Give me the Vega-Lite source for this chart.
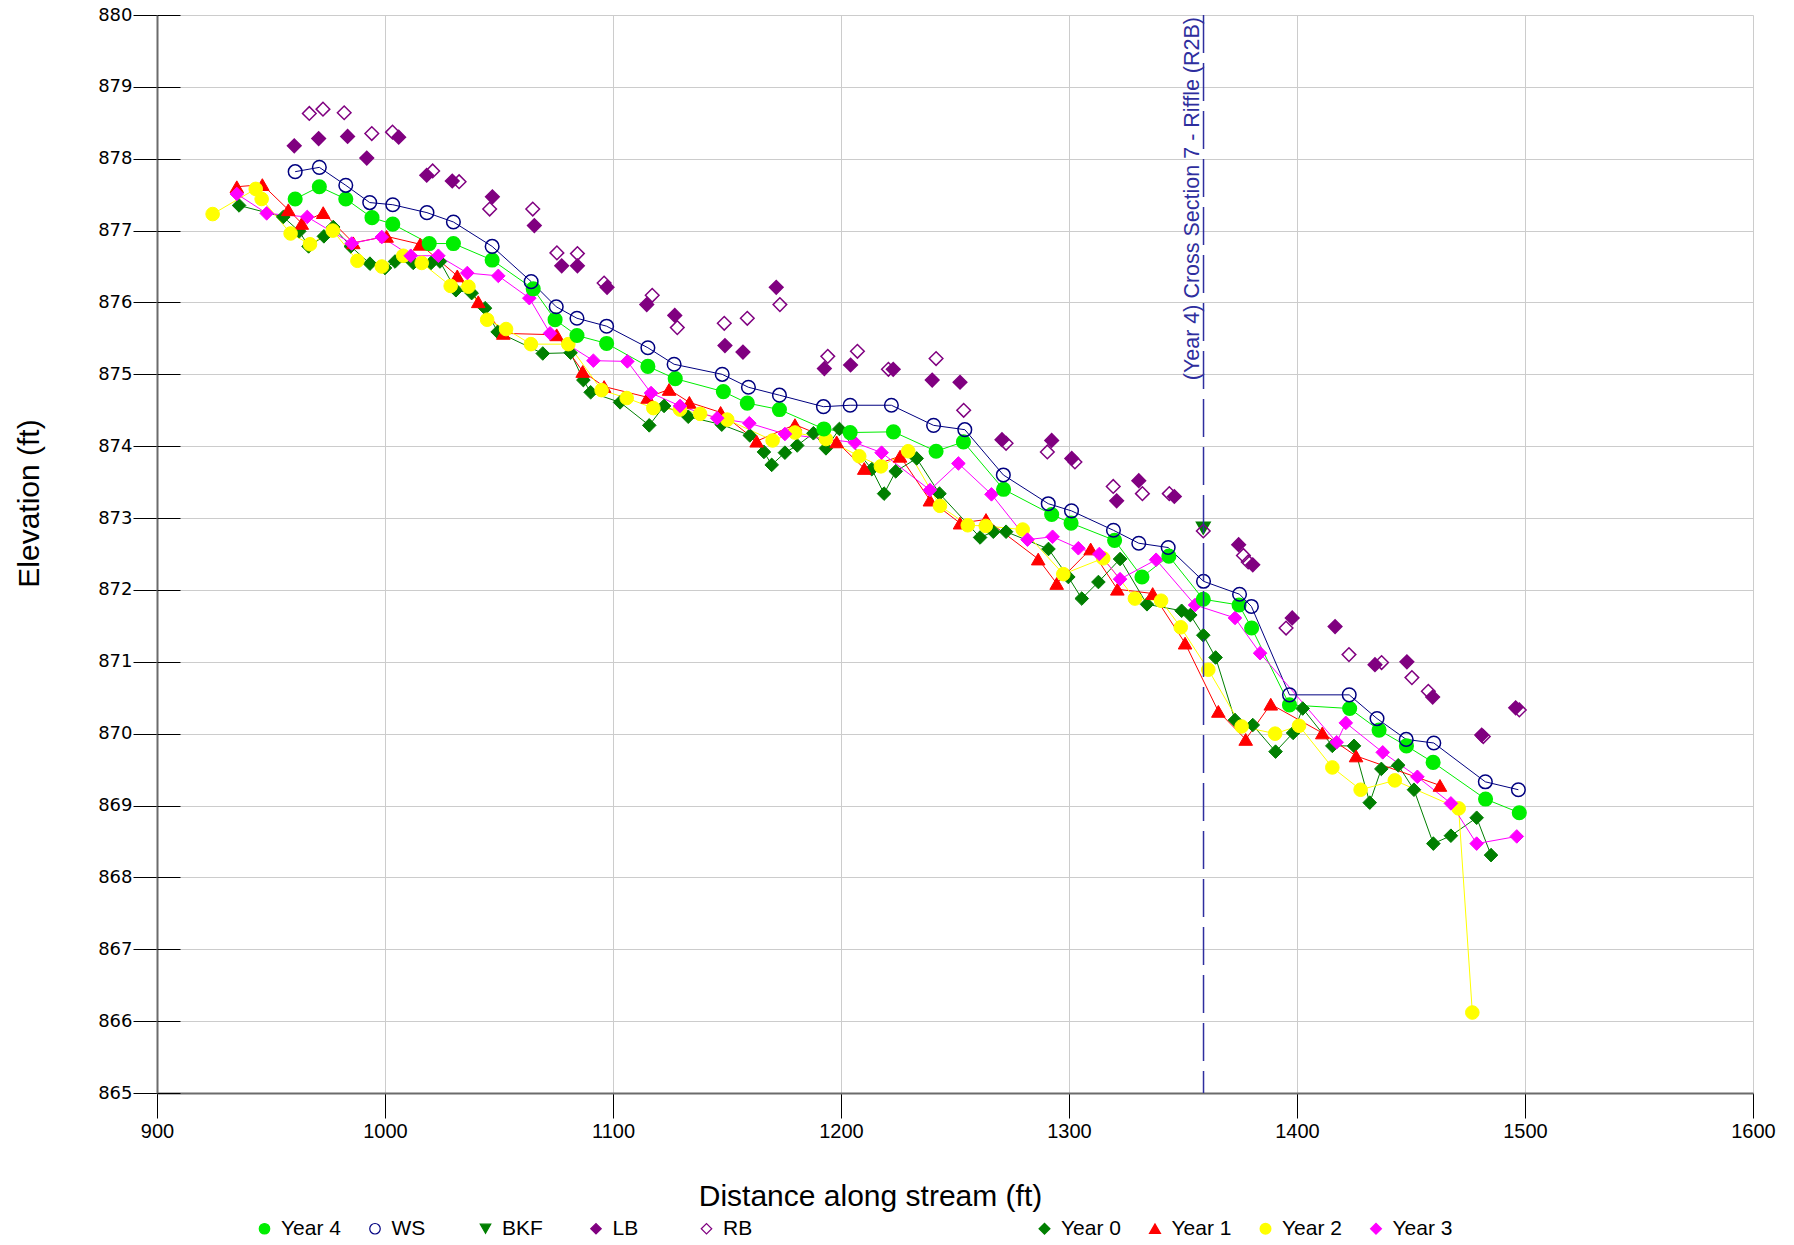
{
  "$schema": "https://vega.github.io/schema/vega-lite/v6.json",
  "width": 1596,
  "height": 1078,
  "autosize": {"type": "none"},
  "padding": {"left": 157, "top": 15, "right": 41, "bottom": 152},
  "background": "white",
  "config": {
    "view": {"stroke": null},
    "axis": {"gridColor": "#cccccc", "gridWidth": 1, "domainColor": "#6b6b6b", "domainWidth": 2, "tickColor": "#000000", "tickWidth": 1, "labelColor": "#000000", "titleColor": "#000000", "titleFontWeight": "normal", "labelFlush": false}
  },
  "datasets": {
    "profile": [
      {"s":"Year 4","d":960.6,"e":877.44},{"s":"Year 4","d":971.2,"e":877.61},{"s":"Year 4","d":982.8,"e":877.44},{"s":"Year 4","d":994.3,"e":877.18},{"s":"Year 4","d":1003.4,"e":877.09},{"s":"Year 4","d":1019.4,"e":876.82},{"s":"Year 4","d":1030,"e":876.82},{"s":"Year 4","d":1047,"e":876.59},{"s":"Year 4","d":1065,"e":876.19},{"s":"Year 4","d":1074.6,"e":875.76},{"s":"Year 4","d":1084.2,"e":875.54},{"s":"Year 4","d":1097.2,"e":875.43},{"s":"Year 4","d":1115.3,"e":875.11},{"s":"Year 4","d":1127.3,"e":874.94},{"s":"Year 4","d":1148.4,"e":874.76},{"s":"Year 4","d":1158.9,"e":874.6},{"s":"Year 4","d":1173,"e":874.51},{"s":"Year 4","d":1192.5,"e":874.24},{"s":"Year 4","d":1204,"e":874.19},{"s":"Year 4","d":1223,"e":874.2},{"s":"Year 4","d":1241.7,"e":873.93},{"s":"Year 4","d":1253.7,"e":874.06},{"s":"Year 4","d":1271.3,"e":873.4},{"s":"Year 4","d":1292.4,"e":873.05},{"s":"Year 4","d":1300.9,"e":872.93},{"s":"Year 4","d":1320,"e":872.69},{"s":"Year 4","d":1332,"e":872.18},{"s":"Year 4","d":1343.8,"e":872.47},{"s":"Year 4","d":1358.9,"e":871.87},{"s":"Year 4","d":1374.6,"e":871.79},{"s":"Year 4","d":1380.1,"e":871.47},{"s":"Year 4","d":1396.7,"e":870.4},{"s":"Year 4","d":1423.1,"e":870.35},{"s":"Year 4","d":1436,"e":870.05},{"s":"Year 4","d":1448,"e":869.83},{"s":"Year 4","d":1459.7,"e":869.6},{"s":"Year 4","d":1482.7,"e":869.09},{"s":"Year 4","d":1497.5,"e":868.9},
      {"s":"WS","d":960.6,"e":877.82},{"s":"WS","d":971.2,"e":877.88},{"s":"WS","d":982.8,"e":877.63},{"s":"WS","d":993.3,"e":877.39},{"s":"WS","d":1003.4,"e":877.36},{"s":"WS","d":1018.4,"e":877.25},{"s":"WS","d":1030,"e":877.12},{"s":"WS","d":1047,"e":876.78},{"s":"WS","d":1064.1,"e":876.29},{"s":"WS","d":1075.1,"e":875.94},{"s":"WS","d":1084.2,"e":875.78},{"s":"WS","d":1097.2,"e":875.67},{"s":"WS","d":1115.3,"e":875.37},{"s":"WS","d":1126.8,"e":875.14},{"s":"WS","d":1147.9,"e":875.0},{"s":"WS","d":1159.4,"e":874.82},{"s":"WS","d":1173,"e":874.71},{"s":"WS","d":1192.3,"e":874.55},{"s":"WS","d":1204,"e":874.57},{"s":"WS","d":1222.1,"e":874.57},{"s":"WS","d":1240.6,"e":874.29},{"s":"WS","d":1254.3,"e":874.23},{"s":"WS","d":1271.2,"e":873.6},{"s":"WS","d":1290.9,"e":873.2},{"s":"WS","d":1301.1,"e":873.1},{"s":"WS","d":1319.5,"e":872.83},{"s":"WS","d":1330.6,"e":872.65},{"s":"WS","d":1343.5,"e":872.59},{"s":"WS","d":1359,"e":872.12},{"s":"WS","d":1374.8,"e":871.94},{"s":"WS","d":1380,"e":871.77},{"s":"WS","d":1396.7,"e":870.54},{"s":"WS","d":1422.9,"e":870.54},{"s":"WS","d":1435.1,"e":870.21},{"s":"WS","d":1447.9,"e":869.92},{"s":"WS","d":1460,"e":869.87},{"s":"WS","d":1482.6,"e":869.33},{"s":"WS","d":1497.1,"e":869.22},
      {"s":"BKF","d":1358.9,"e":872.86},
      {"s":"LB","d":960.2,"e":878.18},{"s":"LB","d":970.9,"e":878.28},{"s":"LB","d":983.6,"e":878.31},{"s":"LB","d":992,"e":878.01},{"s":"LB","d":1006,"e":878.3},{"s":"LB","d":1018.3,"e":877.77},{"s":"LB","d":1029.5,"e":877.69},{"s":"LB","d":1047.1,"e":877.47},{"s":"LB","d":1065.5,"e":877.07},{"s":"LB","d":1077.5,"e":876.51},{"s":"LB","d":1084.4,"e":876.51},{"s":"LB","d":1097.4,"e":876.21},{"s":"LB","d":1114.8,"e":875.97},{"s":"LB","d":1127.1,"e":875.82},{"s":"LB","d":1149.1,"e":875.4},{"s":"LB","d":1157,"e":875.31},{"s":"LB","d":1171.6,"e":876.21},{"s":"LB","d":1192.7,"e":875.08},{"s":"LB","d":1204.2,"e":875.13},{"s":"LB","d":1222.9,"e":875.07},{"s":"LB","d":1240,"e":874.92},{"s":"LB","d":1252.2,"e":874.89},{"s":"LB","d":1270.6,"e":874.09},{"s":"LB","d":1292.4,"e":874.08},{"s":"LB","d":1301.2,"e":873.83},{"s":"LB","d":1320.9,"e":873.24},{"s":"LB","d":1330.6,"e":873.52},{"s":"LB","d":1346.2,"e":873.3},{"s":"LB","d":1374.4,"e":872.63},{"s":"LB","d":1380.6,"e":872.35},{"s":"LB","d":1397.9,"e":871.61},{"s":"LB","d":1416.7,"e":871.49},{"s":"LB","d":1434.2,"e":870.96},{"s":"LB","d":1448.2,"e":871.0},{"s":"LB","d":1459.5,"e":870.51},{"s":"LB","d":1481,"e":869.98},{"s":"LB","d":1495.9,"e":870.36},
      {"s":"RB","d":966.8,"e":878.63},{"s":"RB","d":972.8,"e":878.69},{"s":"RB","d":982.1,"e":878.64},{"s":"RB","d":994.2,"e":878.35},{"s":"RB","d":1003.3,"e":878.37},{"s":"RB","d":1020.9,"e":877.83},{"s":"RB","d":1032.5,"e":877.68},{"s":"RB","d":1045.9,"e":877.3},{"s":"RB","d":1064.8,"e":877.3},{"s":"RB","d":1075.4,"e":876.69},{"s":"RB","d":1084.4,"e":876.68},{"s":"RB","d":1096.1,"e":876.27},{"s":"RB","d":1117.2,"e":876.1},{"s":"RB","d":1128.2,"e":875.65},{"s":"RB","d":1148.8,"e":875.71},{"s":"RB","d":1158.9,"e":875.78},{"s":"RB","d":1173.2,"e":875.97},{"s":"RB","d":1194.2,"e":875.25},{"s":"RB","d":1207.2,"e":875.32},{"s":"RB","d":1220.8,"e":875.07},{"s":"RB","d":1241.7,"e":875.22},{"s":"RB","d":1253.8,"e":874.5},{"s":"RB","d":1272.4,"e":874.04},{"s":"RB","d":1290.5,"e":873.92},{"s":"RB","d":1302.6,"e":873.78},{"s":"RB","d":1319.4,"e":873.44},{"s":"RB","d":1332.2,"e":873.34},{"s":"RB","d":1344,"e":873.34},{"s":"RB","d":1358.9,"e":872.82},{"s":"RB","d":1376.5,"e":872.48},{"s":"RB","d":1378.6,"e":872.39},{"s":"RB","d":1395.2,"e":871.47},{"s":"RB","d":1422.8,"e":871.1},{"s":"RB","d":1437.1,"e":870.99},{"s":"RB","d":1450.4,"e":870.78},{"s":"RB","d":1457.6,"e":870.59},{"s":"RB","d":1481.7,"e":869.96},{"s":"RB","d":1497.5,"e":870.33},
      {"s":"Year 0","d":936,"e":877.35},{"s":"Year 0","d":955.4,"e":877.19},{"s":"Year 0","d":962.4,"e":876.99},{"s":"Year 0","d":966.5,"e":876.78},{"s":"Year 0","d":973.2,"e":876.92},{"s":"Year 0","d":977.3,"e":877.05},{"s":"Year 0","d":985,"e":876.78},{"s":"Year 0","d":993.4,"e":876.54},{"s":"Year 0","d":1000,"e":876.48},{"s":"Year 0","d":1004.4,"e":876.57},{"s":"Year 0","d":1012.4,"e":876.55},{"s":"Year 0","d":1020.2,"e":876.55},{"s":"Year 0","d":1024.1,"e":876.57},{"s":"Year 0","d":1031.1,"e":876.17},{"s":"Year 0","d":1038,"e":876.13},{"s":"Year 0","d":1043.9,"e":875.92},{"s":"Year 0","d":1049.4,"e":875.59},{"s":"Year 0","d":1069.2,"e":875.29},{"s":"Year 0","d":1081.4,"e":875.3},{"s":"Year 0","d":1087,"e":874.92},{"s":"Year 0","d":1090.2,"e":874.75},{"s":"Year 0","d":1103.1,"e":874.61},{"s":"Year 0","d":1115.9,"e":874.29},{"s":"Year 0","d":1122.4,"e":874.56},{"s":"Year 0","d":1133,"e":874.41},{"s":"Year 0","d":1147.7,"e":874.3},{"s":"Year 0","d":1160,"e":874.15},{"s":"Year 0","d":1166.2,"e":873.92},{"s":"Year 0","d":1169.6,"e":873.74},{"s":"Year 0","d":1175.4,"e":873.91},{"s":"Year 0","d":1180.8,"e":874.01},{"s":"Year 0","d":1187.9,"e":874.18},{"s":"Year 0","d":1193.4,"e":873.97},{"s":"Year 0","d":1199.3,"e":874.24},{"s":"Year 0","d":1213.5,"e":873.68},{"s":"Year 0","d":1218.9,"e":873.34},{"s":"Year 0","d":1224,"e":873.65},{"s":"Year 0","d":1233.2,"e":873.83},{"s":"Year 0","d":1243.2,"e":873.34},{"s":"Year 0","d":1261,"e":872.73},{"s":"Year 0","d":1266.8,"e":872.81},{"s":"Year 0","d":1272.4,"e":872.81},{"s":"Year 0","d":1291,"e":872.57},{"s":"Year 0","d":1299.7,"e":872.18},{"s":"Year 0","d":1305.6,"e":871.88},{"s":"Year 0","d":1312.9,"e":872.11},{"s":"Year 0","d":1322.4,"e":872.43},{"s":"Year 0","d":1334.2,"e":871.8},{"s":"Year 0","d":1349.4,"e":871.71},{"s":"Year 0","d":1353.2,"e":871.65},{"s":"Year 0","d":1358.9,"e":871.37},{"s":"Year 0","d":1364.3,"e":871.06},{"s":"Year 0","d":1372.8,"e":870.19},{"s":"Year 0","d":1380.6,"e":870.12},{"s":"Year 0","d":1390.6,"e":869.75},{"s":"Year 0","d":1398.3,"e":870.01},{"s":"Year 0","d":1402.5,"e":870.35},{"s":"Year 0","d":1415.5,"e":869.83},{"s":"Year 0","d":1425,"e":869.83},{"s":"Year 0","d":1431.9,"e":869.04},{"s":"Year 0","d":1437,"e":869.51},{"s":"Year 0","d":1444.4,"e":869.56},{"s":"Year 0","d":1451.3,"e":869.22},{"s":"Year 0","d":1459.8,"e":868.47},{"s":"Year 0","d":1467.5,"e":868.58},{"s":"Year 0","d":1478.8,"e":868.83},{"s":"Year 0","d":1485.1,"e":868.31},
      {"s":"Year 1","d":935,"e":877.61},{"s":"Year 1","d":946.2,"e":877.64},{"s":"Year 1","d":957.6,"e":877.29},{"s":"Year 1","d":963.5,"e":877.1},{"s":"Year 1","d":972.9,"e":877.25},{"s":"Year 1","d":986.1,"e":876.83},{"s":"Year 1","d":1000.7,"e":876.92},{"s":"Year 1","d":1015.4,"e":876.81},{"s":"Year 1","d":1031.7,"e":876.37},{"s":"Year 1","d":1040.9,"e":876.01},{"s":"Year 1","d":1051.9,"e":875.57},{"s":"Year 1","d":1075.3,"e":875.55},{"s":"Year 1","d":1086.7,"e":875.04},{"s":"Year 1","d":1096.1,"e":874.83},{"s":"Year 1","d":1115.2,"e":874.68},{"s":"Year 1","d":1124.6,"e":874.79},{"s":"Year 1","d":1133.5,"e":874.61},{"s":"Year 1","d":1147.2,"e":874.47},{"s":"Year 1","d":1163,"e":874.07},{"s":"Year 1","d":1179.8,"e":874.3},{"s":"Year 1","d":1198.1,"e":874.06},{"s":"Year 1","d":1210.2,"e":873.69},{"s":"Year 1","d":1225.9,"e":873.86},{"s":"Year 1","d":1239,"e":873.25},{"s":"Year 1","d":1252.2,"e":872.93},{"s":"Year 1","d":1263.6,"e":872.98},{"s":"Year 1","d":1286.5,"e":872.43},{"s":"Year 1","d":1294.6,"e":872.09},{"s":"Year 1","d":1309.5,"e":872.57},{"s":"Year 1","d":1321.2,"e":872.01},{"s":"Year 1","d":1336.7,"e":871.95},{"s":"Year 1","d":1350.9,"e":871.26},{"s":"Year 1","d":1365.5,"e":870.31},{"s":"Year 1","d":1377.5,"e":869.92},{"s":"Year 1","d":1388.5,"e":870.41},{"s":"Year 1","d":1411.1,"e":870.01},{"s":"Year 1","d":1425.9,"e":869.69},{"s":"Year 1","d":1462.7,"e":869.28},
      {"s":"Year 2","d":924.4,"e":877.23},{"s":"Year 2","d":943.3,"e":877.58},{"s":"Year 2","d":945.9,"e":877.44},{"s":"Year 2","d":958.6,"e":876.96},{"s":"Year 2","d":967.1,"e":876.81},{"s":"Year 2","d":977.1,"e":877.0},{"s":"Year 2","d":987.9,"e":876.58},{"s":"Year 2","d":998.6,"e":876.5},{"s":"Year 2","d":1008,"e":876.65},{"s":"Year 2","d":1016.1,"e":876.55},{"s":"Year 2","d":1028.8,"e":876.23},{"s":"Year 2","d":1036.6,"e":876.22},{"s":"Year 2","d":1044.8,"e":875.76},{"s":"Year 2","d":1053.1,"e":875.63},{"s":"Year 2","d":1064,"e":875.42},{"s":"Year 2","d":1080.4,"e":875.42},{"s":"Year 2","d":1095,"e":874.78},{"s":"Year 2","d":1106,"e":874.67},{"s":"Year 2","d":1117.7,"e":874.53},{"s":"Year 2","d":1129.4,"e":874.51},{"s":"Year 2","d":1138.2,"e":874.45},{"s":"Year 2","d":1150.1,"e":874.37},{"s":"Year 2","d":1170,"e":874.08},{"s":"Year 2","d":1179.8,"e":874.19},{"s":"Year 2","d":1193.4,"e":874.1},{"s":"Year 2","d":1208,"e":873.86},{"s":"Year 2","d":1217.5,"e":873.72},{"s":"Year 2","d":1229.5,"e":873.93},{"s":"Year 2","d":1243.4,"e":873.17},{"s":"Year 2","d":1255.6,"e":872.9},{"s":"Year 2","d":1263.5,"e":872.89},{"s":"Year 2","d":1279.7,"e":872.84},{"s":"Year 2","d":1297.5,"e":872.22},{"s":"Year 2","d":1315,"e":872.44},{"s":"Year 2","d":1328.9,"e":871.88},{"s":"Year 2","d":1340.4,"e":871.85},{"s":"Year 2","d":1349,"e":871.48},{"s":"Year 2","d":1361.1,"e":870.89},{"s":"Year 2","d":1375.7,"e":870.1},{"s":"Year 2","d":1390.4,"e":870.0},{"s":"Year 2","d":1400.9,"e":870.11},{"s":"Year 2","d":1415.5,"e":869.53},{"s":"Year 2","d":1427.9,"e":869.22},{"s":"Year 2","d":1442.9,"e":869.35},{"s":"Year 2","d":1470.9,"e":868.96},{"s":"Year 2","d":1476.9,"e":866.12},
      {"s":"Year 3","d":935,"e":877.51},{"s":"Year 3","d":948.1,"e":877.24},{"s":"Year 3","d":965.9,"e":877.19},{"s":"Year 3","d":985.4,"e":876.82},{"s":"Year 3","d":998.6,"e":876.91},{"s":"Year 3","d":1011.3,"e":876.65},{"s":"Year 3","d":1023.4,"e":876.65},{"s":"Year 3","d":1036.1,"e":876.41},{"s":"Year 3","d":1049.7,"e":876.37},{"s":"Year 3","d":1063.3,"e":876.06},{"s":"Year 3","d":1072.4,"e":875.57},{"s":"Year 3","d":1091.4,"e":875.19},{"s":"Year 3","d":1106.3,"e":875.18},{"s":"Year 3","d":1116.7,"e":874.74},{"s":"Year 3","d":1129.4,"e":874.56},{"s":"Year 3","d":1145.7,"e":874.39},{"s":"Year 3","d":1159.8,"e":874.32},{"s":"Year 3","d":1175.4,"e":874.17},{"s":"Year 3","d":1206.1,"e":874.05},{"s":"Year 3","d":1217.8,"e":873.91},{"s":"Year 3","d":1239,"e":873.39},{"s":"Year 3","d":1251.5,"e":873.76},{"s":"Year 3","d":1266,"e":873.33},{"s":"Year 3","d":1281.8,"e":872.7},{"s":"Year 3","d":1292.8,"e":872.74},{"s":"Year 3","d":1304.1,"e":872.58},{"s":"Year 3","d":1313.3,"e":872.5},{"s":"Year 3","d":1322.4,"e":872.15},{"s":"Year 3","d":1338.2,"e":872.42},{"s":"Year 3","d":1355.3,"e":871.79},{"s":"Year 3","d":1372.8,"e":871.61},{"s":"Year 3","d":1383.8,"e":871.12},{"s":"Year 3","d":1417.4,"e":869.88},{"s":"Year 3","d":1421.4,"e":870.15},{"s":"Year 3","d":1437.6,"e":869.74},{"s":"Year 3","d":1452.8,"e":869.4},{"s":"Year 3","d":1467.5,"e":869.03},{"s":"Year 3","d":1478.8,"e":868.47},{"s":"Year 3","d":1496.4,"e":868.57}
    ],
    "section": [{"d": 1359, "label": "(Year 4) Cross Section 7 - Riffle (R2B)"}]
  },
  "layer": [
    {
      "data": {"name": "profile"},
      "transform": [{"filter": {"field": "s", "oneOf": ["Year 0", "Year 1", "Year 2", "Year 3", "Year 4", "WS"]}}],
      "mark": {"type": "line", "strokeWidth": 1, "clip": true},
      "encoding": {
        "x": {"field": "d", "type": "quantitative", "scale": {"domain": [900, 1600], "nice": false, "zero": false},
          "axis": {"orient": "bottom", "values": [900, 1000, 1100, 1200, 1300, 1400, 1500, 1600], "format": "d", "labelFlush": false, "tickSize": 25, "labelPadding": 3, "labelFont": "Liberation Sans", "labelFontSize": 20, "title": "Distance along stream (ft)", "titleFont": "Liberation Sans", "titleFontSize": 30, "titleX": 713, "titleY": 112, "titleAlign": "center", "titleBaseline": "alphabetic", "grid": true}},
        "y": {"field": "e", "type": "quantitative", "scale": {"domain": [865, 880], "nice": false, "zero": false},
          "axis": {"orient": "left", "values": [865, 866, 867, 868, 869, 870, 871, 872, 873, 874, 875, 876, 877, 878, 879, 880], "format": "d", "labelFlush": false, "tickSize": 24, "labelPadding": 1, "labelFont": "DejaVu Sans", "labelFontSize": 18, "title": "Elevation (ft)", "titleFont": "Liberation Sans", "titleFontSize": 30, "titleX": -119, "titleY": 488, "titleAngle": 270, "titleAlign": "center", "titleBaseline": "alphabetic", "grid": true}},
        "color": {"field": "s", "type": "nominal", "legend": null,
          "scale": {"domain": ["Year 0", "Year 1", "Year 2", "Year 3", "Year 4", "WS"], "range": ["#007f00", "#ff0000", "#ffff00", "#ff00ff", "#00ee00", "#000080"]}}
      }
    },
    {
      "data": {"name": "profile"},
      "transform": [{"filter": {"field": "s", "oneOf": ["Year 0", "Year 1", "Year 2", "Year 3"]}}],
      "mark": {"type": "point", "strokeWidth": 1, "opacity": 1, "size": 185},
      "encoding": {
        "x": {"field": "d", "type": "quantitative", "scale": {"domain": [900, 1600], "nice": false, "zero": false}, "axis": null},
        "y": {"field": "e", "type": "quantitative", "scale": {"domain": [865, 880], "nice": false, "zero": false},
          "axis": {"orient": "left", "values": [865, 866, 867, 868, 869, 870, 871, 872, 873, 874, 875, 876, 877, 878, 879, 880], "tickSize": -23, "labels": false, "domain": false, "grid": false, "title": null}},
        "fill": {"field": "s", "type": "nominal",
          "scale": {"domain": ["Year 0", "Year 1", "Year 2", "Year 3"], "range": ["#007f00", "#ff0000", "#ffff00", "#ff00ff"]},
          "legend": {"orient": "none", "legendX": 877, "legendY": 1203, "direction": "horizontal", "columns": 4, "gridAlign": "all", "columnPadding": 23.5, "title": null, "labelFont": "Liberation Sans", "labelFontSize": 21, "labelOffset": 6, "symbolSize": 110, "symbolStrokeWidth": 1.5, "padding": 0}},
        "stroke": {"field": "s", "type": "nominal",
          "scale": {"domain": ["Year 0", "Year 1", "Year 2", "Year 3"], "range": ["#007f00", "#ff0000", "#ffff00", "#ff00ff"]},
          "legend": {"orient": "none", "legendX": 877, "legendY": 1203, "direction": "horizontal", "columns": 4, "gridAlign": "all", "columnPadding": 23.5, "title": null, "labelFont": "Liberation Sans", "labelFontSize": 21, "labelOffset": 6, "symbolSize": 110, "symbolStrokeWidth": 1.5, "padding": 0}},
        "shape": {"field": "s", "type": "nominal",
          "scale": {"domain": ["Year 0", "Year 1", "Year 2", "Year 3"], "range": ["diamond", "triangle-up", "circle", "diamond"]},
          "legend": {"orient": "none", "legendX": 877, "legendY": 1203, "direction": "horizontal", "columns": 4, "gridAlign": "all", "columnPadding": 23.5, "title": null, "labelFont": "Liberation Sans", "labelFontSize": 21, "labelOffset": 6, "symbolSize": 110, "symbolStrokeWidth": 1.5, "padding": 0}}
      }
    },
    {
      "data": {"name": "profile"},
      "transform": [{"filter": {"field": "s", "oneOf": ["Year 4", "WS", "BKF", "LB", "RB"]}}],
      "mark": {"type": "point", "strokeWidth": 1.5, "opacity": 1, "size": 185},
      "encoding": {
        "x": {"field": "d", "type": "quantitative", "scale": {"domain": [900, 1600], "nice": false, "zero": false}, "axis": null},
        "y": {"field": "e", "type": "quantitative", "scale": {"domain": [865, 880], "nice": false, "zero": false}, "axis": null},
        "fill": {"field": "s", "type": "nominal",
          "scale": {"domain": ["Year 4", "WS", "BKF", "LB", "RB"], "range": ["#00ee00", "transparent", "#007f00", "#800080", "transparent"]},
          "legend": {"orient": "none", "legendX": 97, "legendY": 1203, "direction": "horizontal", "columns": 5, "gridAlign": "all", "columnPadding": 23.5, "title": null, "labelFont": "Liberation Sans", "labelFontSize": 21, "labelOffset": 6, "symbolSize": 110, "symbolStrokeWidth": 1.2, "padding": 0}},
        "stroke": {"field": "s", "type": "nominal",
          "scale": {"domain": ["Year 4", "WS", "BKF", "LB", "RB"], "range": ["#00ee00", "#000080", "#007f00", "#800080", "#800080"]},
          "legend": {"orient": "none", "legendX": 97, "legendY": 1203, "direction": "horizontal", "columns": 5, "gridAlign": "all", "columnPadding": 23.5, "title": null, "labelFont": "Liberation Sans", "labelFontSize": 21, "labelOffset": 6, "symbolSize": 110, "symbolStrokeWidth": 1.2, "padding": 0}},
        "shape": {"field": "s", "type": "nominal",
          "scale": {"domain": ["Year 4", "WS", "BKF", "LB", "RB"], "range": ["circle", "circle", "triangle-down", "diamond", "diamond"]},
          "legend": {"orient": "none", "legendX": 97, "legendY": 1203, "direction": "horizontal", "columns": 5, "gridAlign": "all", "columnPadding": 23.5, "title": null, "labelFont": "Liberation Sans", "labelFontSize": 21, "labelOffset": 6, "symbolSize": 110, "symbolStrokeWidth": 1.2, "padding": 0}}
      }
    },
    {
      "data": {"name": "section"},
      "mark": {"type": "rule", "color": "#2e2e9e", "strokeWidth": 1.5, "strokeDash": [38, 10]},
      "encoding": {
        "x": {"field": "d", "type": "quantitative", "scale": {"domain": [900, 1600], "nice": false, "zero": false}, "axis": null},
        "y": {"datum": 880, "type": "quantitative", "scale": {"domain": [865, 880], "nice": false, "zero": false}, "axis": null},
        "y2": {"datum": 865}
      }
    },
    {
      "data": {"name": "section"},
      "mark": {"type": "text", "angle": 270, "align": "right", "baseline": "alphabetic", "dy": -5, "dx": -2, "font": "Liberation Sans", "fontSize": 21.5, "color": "#2e2e9e"},
      "encoding": {
        "x": {"field": "d", "type": "quantitative", "scale": {"domain": [900, 1600], "nice": false, "zero": false}, "axis": null},
        "y": {"datum": 880, "type": "quantitative", "scale": {"domain": [865, 880], "nice": false, "zero": false}, "axis": null},
        "text": {"field": "label"}
      }
    }
  ],
  "resolve": {
    "scale": {"fill": "independent", "stroke": "independent", "shape": "independent", "color": "independent"},
    "axis": {"x": "independent", "y": "independent"}
  }
}
